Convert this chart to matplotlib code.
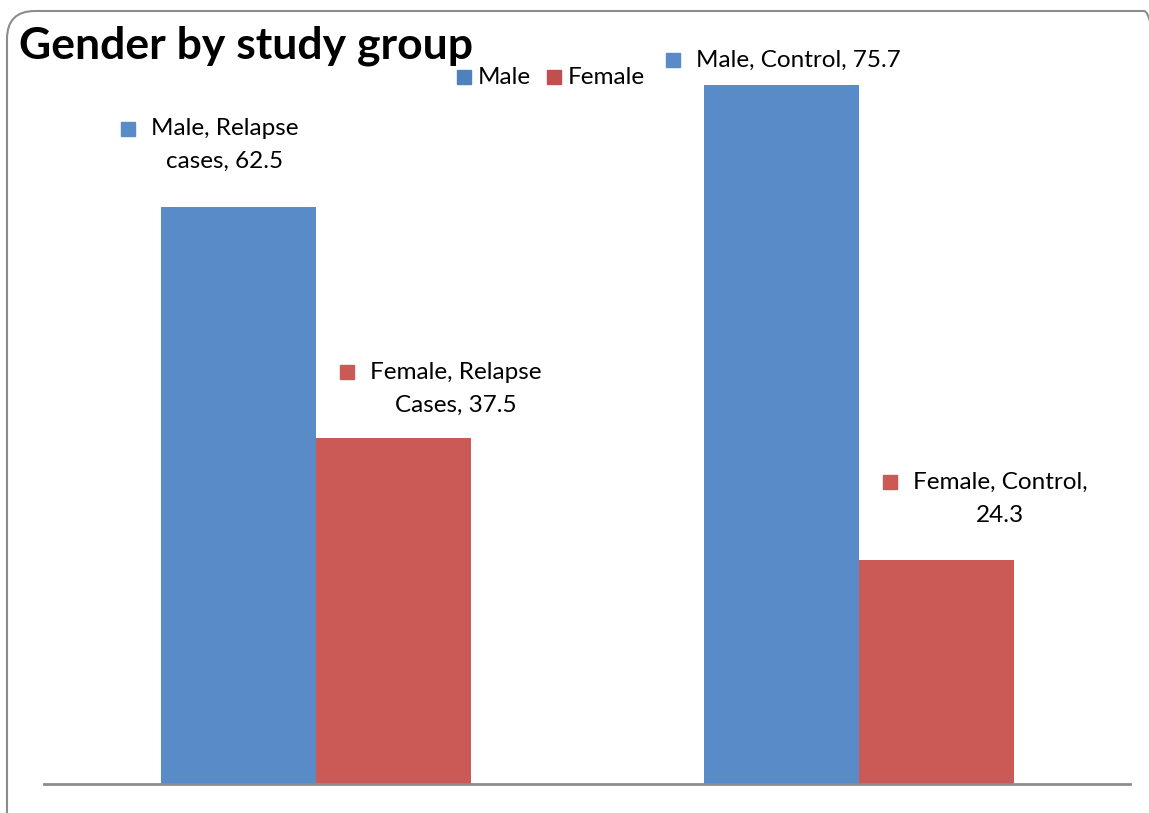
import matplotlib
matplotlib.use("Agg")
import matplotlib.pyplot as plt
from matplotlib.patches import FancyBboxPatch
import numpy as np

# Data
groups = ["Relapse cases", "Control"]
series = ["Male", "Female"]
male = [62.5, 75.7]
female = [37.5, 24.3]
label_lines = [
    ["Male, Relapse", "cases, 62.5"],
    ["Female, Relapse", "Cases, 37.5"],
    ["Male, Control, 75.7"],
    ["Female, Control,", "24.3"],
]

BLUE = "#598BC9"
RED = "#CB5A56"
FONT = "Lato"
LABEL_SIZE = 17.5

W, H = 1149, 813
DPI = 100
fig = plt.figure(figsize=(W / DPI, H / DPI), dpi=DPI)
fig.patch.set_facecolor("white")

# Rounded slide frame (in inches so the corner radius stays round)
frame = FancyBboxPatch((7 / DPI, -30 / DPI), (1172 - 7) / DPI, (H - 11 + 30) / DPI,
                       boxstyle="round,pad=0,rounding_size=0.28",
                       transform=fig.dpi_scale_trans, fill=False,
                       edgecolor="#8c8c8c", linewidth=1.5, zorder=0)
fig.patches.append(frame)

ax_left, ax_right = 44 / W, 1130 / W
ax_bottom = (H - 784) / H
ymax = 80.0
px_per_unit = 577 / 62.5
ax_top_px = 784 - ymax * px_per_unit
ax = fig.add_axes([ax_left, ax_bottom, ax_right - ax_left, (784 - ax_top_px) / H])
ax.set_xlim(-0.5, 1.5)
ax.set_ylim(0, ymax)

x = np.arange(len(groups))
bw = 155 / 543
ax.bar(x - bw / 2, male, width=bw, color=BLUE, zorder=2)
ax.bar(x + bw / 2, female, width=bw, color=RED, zorder=2)

for s in ["top", "right", "left"]:
    ax.spines[s].set_visible(False)
ax.spines["bottom"].set_color("#8c8c8c")
ax.spines["bottom"].set_linewidth(2)
ax.set_xticks([])
ax.set_yticks([])
ax.patch.set_alpha(0)

# Title
fig.text(19 / W, 1 - 46 / H, "Gender by study group", fontsize=32, fontweight="bold",
         family=FONT, ha="left", va="center")

# Legend
leg_y = 1 - 77 / H
legend_items = [(458, 478, "Male", "#4F81BD"), (548, 568, "Female", "#C0504D")]
for mx_px, tx_px, name, col in legend_items:
    fig.lines.append(plt.Line2D([(mx_px + 6) / W], [leg_y], marker="s", markersize=10,
                                color=col, linestyle="none", transform=fig.transFigure))
    fig.text(tx_px / W, leg_y, name, fontsize=LABEL_SIZE, family=FONT,
             ha="left", va="center")

# Data labels: (center x in category units, first-line y in value units)
label_pos = [(-0.1667, 71.0), (0.2587, 44.6), (0.8886, 78.4), (1.2606, 32.7)]
label_colors = [BLUE, RED, BLUE, RED]
line_gap = 33 / px_per_unit

fig.canvas.draw()
renderer = fig.canvas.get_renderer()
for lines, (cx, cy), col in zip(label_lines, label_pos, label_colors):
    first = None
    for i, ln in enumerate(lines):
        t = ax.text(cx, cy - i * line_gap, ln, fontsize=LABEL_SIZE, family=FONT,
                    ha="center", va="center", zorder=3)
        if i == 0:
            first = t
    bb = first.get_window_extent(renderer=renderer)
    mx, my = bb.x0 - 23, (bb.y0 + bb.y1) / 2
    dx, dy = ax.transData.inverted().transform((mx, my))
    ax.plot([dx], [dy], marker="s", markersize=10.5, color=col, linestyle="none",
            clip_on=False, zorder=3)

fig.savefig("out.png", dpi=DPI)
